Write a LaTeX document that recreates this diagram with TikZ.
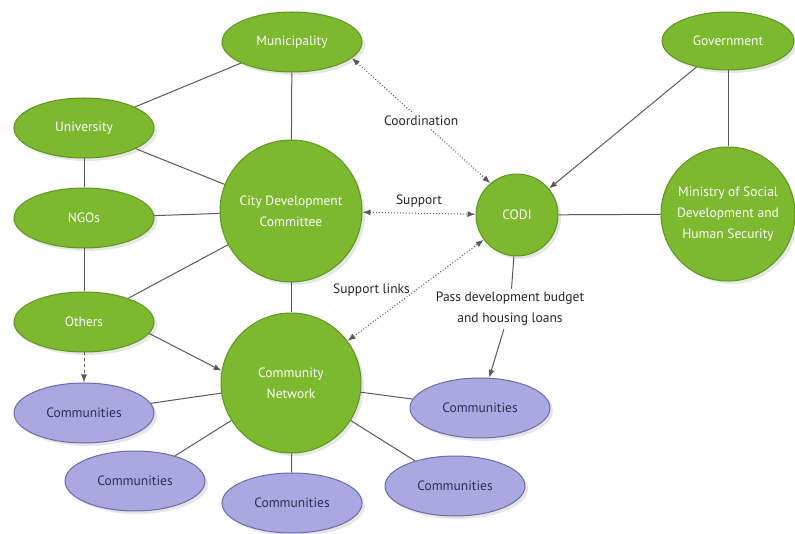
\documentclass[tikz,border=0pt]{standalone}
\usepackage{fontspec}
\setmainfont{PT Sans}
\usetikzlibrary{shapes.geometric,shadows,arrows.meta}
\definecolor{leaf}{HTML}{7DB92F}
\definecolor{leafdark}{HTML}{5E9420}
\definecolor{lilac}{HTML}{A9A8E0}
\definecolor{lilacdark}{HTML}{6C6BA8}
\definecolor{ink}{HTML}{2E2E5A}
\definecolor{wire}{HTML}{5A5A5A}

\begin{document}
\begin{tikzpicture}[x=1pt,y=-1pt,
    body/.style={fill=leaf,draw=leafdark,line width=1pt,text=white,align=center,inner sep=0pt,
      font=\fontsize{13.5}{21}\selectfont,drop shadow={opacity=.2,shadow xshift=3pt,shadow yshift=-3pt}},
    blob/.style={body,ellipse,minimum width=140pt,minimum height=60pt},
    disc/.style={body,circle},
    comm/.style={blob,fill=lilac,draw=lilacdark,text=ink},
    link/.style={draw=wire,line width=1pt},
    push/.style={link,-{Latex[length=8pt,width=6pt]}},
    ties/.style={draw=wire,dotted,line width=1pt,{Latex[length=8pt,width=6pt]}-{Latex[length=8pt,width=6pt]}},
    tag/.style={font=\fontsize{13.5}{21}\selectfont,text=black!85,align=center}]
    \useasboundingbox (0,0) rectangle (795,534);
    \node[blob] (muni) at (292,42) {Municipality};
    \node[blob] (univ) at (84,128) {University};
    \node[blob] (ngos) at (84,218) {NGOs};
    \node[blob] (others) at (84,322) {Others};
    \node[disc,minimum size=142pt] (cdc) at (291,211) {City Development\\Committee};
    \node[disc,minimum size=140pt] (cnet) at (291,383) {Community\\Network};
    \node[disc,minimum size=82pt] (codi) at (517,215) {CODI};
    \node[blob,minimum width=132pt,minimum height=58pt] (gov) at (728,41) {Government};
    \node[disc,minimum size=134pt] (mins) at (728,214) {Ministry of Social\\Development and\\Human Security};
    \foreach \name/\x/\y in {com1/84/413,com2/135/481,com3/292/503,com4/455/486,com5/480/408}
    \node[comm] (\name) at (\x,\y) {Communities};
    \node[tag] (pass) at (510,309) {Pass development budget\\and housing loans};
    \draw[link] (muni) -- (univ);
    \draw[link] (muni) -- (cdc);
    \draw[link] (univ) -- (cdc);
    \draw[link] (univ) -- (ngos);
    \draw[link] (ngos) -- (cdc);
    \draw[link] (ngos) -- (others);
    \draw[link] (others) -- (cdc);
    \draw[link] (cdc) -- (cnet);
    \draw[push] (others.-10) -- (cnet.170);
    \draw[push,dashed] (others) -- (com1);
    \foreach \name in {com1,com2,com3,com4,com5}
    \draw[link] (cnet) -- (\name);
    \draw[ties] (muni.-15) -- (codi.130) node[midway,fill=white,tag] {Coordination};
    \draw[ties] (cdc) -- (codi) node[midway,above=2pt,tag] {Support};
    \draw[ties] (cnet) -- (codi) node[midway,left=2pt,tag] {Support links};
    \draw[push] (gov) -- (codi);
    \draw[link] (gov) -- (mins);
    \draw[link] (codi) -- (mins);
    \draw[link] (codi) -- (pass);
    \draw[push] (pass) -- (com5);
  \end{tikzpicture}
\end{document}
